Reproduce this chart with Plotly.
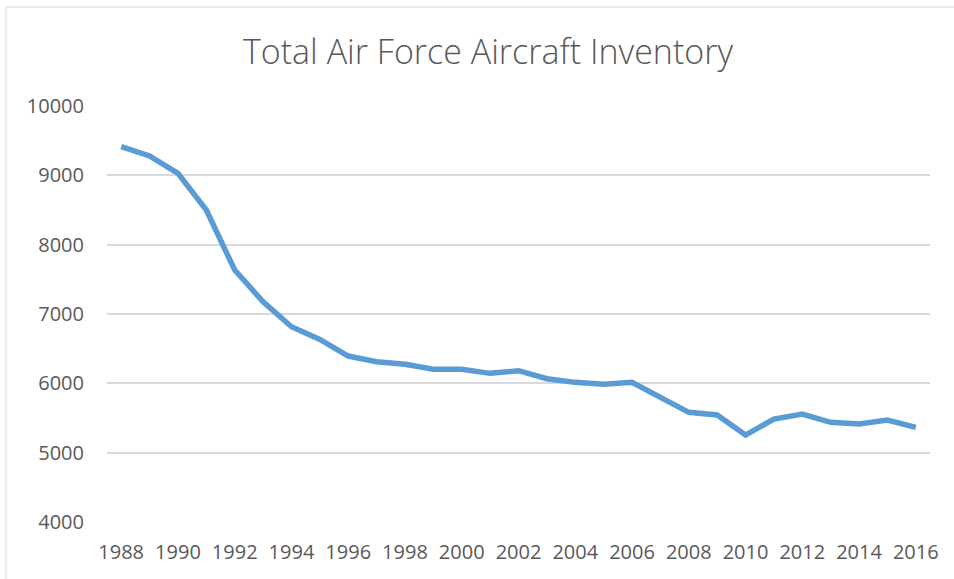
import plotly.graph_objects as go

years = list(range(1988, 2017))
inventory = [9413, 9279, 9029, 8499, 7634, 7176, 6816, 6633, 6394, 6312,
             6274, 6202, 6202, 6144, 6182, 6066, 6014, 5986, 6014, 5793,
             5582, 5543, 5254, 5485, 5557, 5437, 5413, 5470, 5365]
title_text = "Total Air Force Aircraft Inventory"

W, H = 954, 579
L, R, T, B = 107, 24, 106, 57
pw, ph = W - L - R, H - T - B

fig = go.Figure()
fig.add_trace(go.Scatter(x=years, y=inventory, mode="lines",
                         line=dict(color="#5B9BD5", width=5.5),
                         hoverinfo="x+y"))

fig.update_layout(
    width=W, height=H,
    margin=dict(l=L, r=R, t=T, b=B),
    paper_bgcolor="white", plot_bgcolor="white",
    showlegend=False,
    font=dict(family="Open Sans", color="#595959"),
    title=dict(text=title_text, x=488 / W, xanchor="center",
               y=1 - 52 / H, yanchor="middle", xref="container", yref="container",
               font=dict(family="Open Sans", size=34, color="#595959", weight=300)),
    xaxis=dict(range=[1987.5, 2016.5], tickmode="linear", tick0=1988, dtick=2,
               tickformat="d",
               showgrid=False, zeroline=False, showline=False,
               tickfont=dict(size=20, color="#595959"), ticks="",
               ticklabelstandoff=16),
    yaxis=dict(range=[4000, 10000], tickmode="linear", tick0=4000, dtick=1000,
               tickformat="d",
               showgrid=True, gridcolor="#D9D9D9", gridwidth=1.5, zeroline=False,
               showline=False, tickfont=dict(size=20, color="#595959"), ticks="",
               ticklabelstandoff=22),
    shapes=[dict(type="rect", xref="paper", yref="paper",
                 x0=(6 - L) / pw, x1=(1100 - L) / pw,
                 y0=-0.3, y1=(H - B - 7) / ph,
                 line=dict(color="#D9D9D9", width=1), layer="below")],
)

fig.write_html("out.html", config={"displayModeBar": False},
               post_script="document.body.style.margin='0';document.body.style.overflow='hidden';")
